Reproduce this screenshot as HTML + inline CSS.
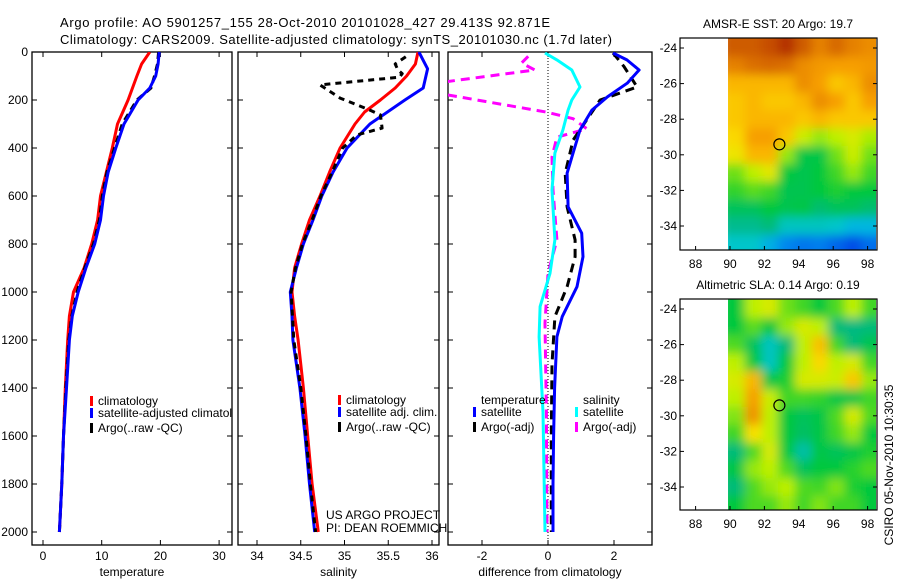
<!DOCTYPE html>
<html><head><meta charset="utf-8"><style>
html,body{margin:0;padding:0;background:#fff;}
svg{display:block;font-family:"Liberation Sans",sans-serif;}
</style></head><body>
<svg id="fig" width="900" height="580" viewBox="0 0 900 580" xmlns="http://www.w3.org/2000/svg">
<defs>
<clipPath id="c1"><rect x="32" y="52" width="200" height="493"/></clipPath>
<clipPath id="c2"><rect x="238" y="52" width="201" height="493"/></clipPath>
<clipPath id="c3"><rect x="448" y="52" width="204" height="493"/></clipPath>
<clipPath id="cm1"><rect x="728" y="38" width="148" height="212"/></clipPath>
<clipPath id="cm2"><rect x="728" y="299" width="148" height="211"/></clipPath>
<filter id="bl" x="-5%" y="-5%" width="110%" height="110%"><feGaussianBlur stdDeviation="5"/></filter>
</defs>
<text x="60" y="27" font-size="13" textLength="490">Argo profile: AO 5901257_155 28-Oct-2010 20101028_427 29.413S 92.871E</text>
<text x="60" y="44" font-size="13" textLength="552">Climatology: CARS2009. Satellite-adjusted climatology: synTS_20101030.nc (1.7d later)</text>
<g id="g1"></g>
<g id="g2"></g>
<g id="g3"></g>
<g id="m1"></g>
<g id="m2"></g>
<text transform="translate(893,465) rotate(-90)" text-anchor="middle" font-size="12">CSIRO 05-Nov-2010 10:30:35</text>
</svg>
<script>
// ---- profile data ----
const depthTicks = [0,200,400,600,800,1000,1200,1400,1600,1800,2000];
const dClim = [0,50,100,200,300,400,500,600,700,800,900,1000,1100,1200,1400,1600,1800,2000];
const tClim = [18.2,16.8,16.0,14.5,12.7,11.8,10.8,9.8,9.3,8.3,7.0,5.2,4.5,4.2,3.8,3.5,3.2,2.8];
const dSat = [0,50,100,150,200,300,400,500,600,700,800,900,1000,1100,1200,1400,1600,1800,2000];
const tSat = [19.8,19.6,19.2,18.2,16.2,13.8,12.4,11.1,10.3,9.8,8.8,7.3,6.0,5.0,4.5,4.0,3.5,3.2,2.8];
const tArgo = [19.7,19.5,19.0,18.4,16.0,13.5,12.2,10.9,10.1,9.6,8.6,7.1,5.8,4.9,4.4,3.9,3.5,3.2,2.8];
const dSal = [0,50,100,150,200,250,300,400,500,600,700,800,900,1000,1100,1200,1400,1600,1800,2000];
const sClim = [35.84,35.81,35.71,35.58,35.41,35.23,35.12,34.95,34.83,34.72,34.60,34.51,34.43,34.40,34.43,34.47,34.53,34.58,34.63,34.70];
const dSalSat = [0,70,150,200,300,400,500,600,700,800,900,1000,1100,1200,1400,1600,1800,2000];
const sSat = [35.85,35.95,35.90,35.69,35.29,35.03,34.87,34.74,34.64,34.53,34.45,34.38,34.40,34.41,34.49,34.55,34.60,34.66];
const dSalArgo = [20,50,75,90,105,137,192,242,262,317,346,400,500,600,700,800,900,1000,1200,1400,1600,1800,2000];
const sArgo = [35.70,35.58,35.61,35.66,35.63,34.72,34.95,35.29,35.41,35.43,35.14,34.98,34.86,34.73,34.63,34.52,34.44,34.39,34.42,34.50,34.56,34.61,34.67];
// differences
const dDT = [4,33,75,130,187,242,325,421,505,645,755,853,978,1103,1187,1400,1600,1800,2000];
const dTsat = [1.97,2.39,2.76,2.40,1.80,1.33,0.97,0.76,0.58,0.61,1.02,1.06,0.88,0.43,0.27,0.2,0.17,0.15,0.15];
const dDTa = [4,60,146,200,367,505,645,783,853,978,1103,1300,1600,2000];
const dTargo = [1.97,2.3,2.7,1.58,0.76,0.52,0.58,0.82,0.82,0.58,0.21,0.12,0.1,0.1];
const dDS = [4,33,75,146,200,242,325,421,575,783,922,1061,1187,1500,2000];
const dSsat = [-0.09,0.27,0.72,0.97,0.72,0.61,0.45,0.21,0.12,0.21,0.06,-0.24,-0.27,-0.15,-0.09];
const dDSa = [18,46,75,126,175,251,278,320,355,438,575,783,922,1130,1500,2000];
const dSargo = [-0.6,-0.8,-0.4,-3.2,-3.2,-0.03,0.76,1.18,0.27,0.12,0.15,0.27,0,-0.09,-0.05,-0.03];
// ---- map data (rows lat -24..-35, cols lon 90..98.5) ----
const sstLat = [-24,-25,-26,-27,-28,-29,-30,-31,-32,-33,-34,-35];
const sstGrid = [
[0.86,0.86,0.88,0.92,0.86,0.80,0.84,0.80,0.78],
[0.80,0.83,0.84,0.83,0.78,0.76,0.75,0.75,0.76],
[0.72,0.72,0.72,0.72,0.78,0.75,0.70,0.72,0.78],
[0.70,0.72,0.70,0.70,0.72,0.78,0.75,0.70,0.75],
[0.70,0.72,0.72,0.72,0.70,0.72,0.70,0.70,0.70],
[0.68,0.75,0.75,0.70,0.63,0.60,0.62,0.64,0.61],
[0.66,0.72,0.72,0.60,0.49,0.49,0.58,0.63,0.58],
[0.58,0.62,0.65,0.50,0.48,0.50,0.55,0.60,0.55],
[0.54,0.57,0.55,0.48,0.48,0.50,0.52,0.50,0.50],
[0.47,0.47,0.50,0.48,0.49,0.45,0.47,0.47,0.45],
[0.42,0.42,0.44,0.38,0.38,0.38,0.37,0.34,0.34],
[0.37,0.37,0.33,0.28,0.26,0.27,0.24,0.21,0.25]];
const slaGrid = [
[0.50,0.62,0.64,0.58,0.55,0.50,0.56,0.62,0.55],
[0.50,0.57,0.50,0.60,0.64,0.62,0.44,0.43,0.44],
[0.56,0.47,0.38,0.44,0.62,0.71,0.55,0.44,0.48],
[0.62,0.50,0.38,0.50,0.62,0.68,0.62,0.64,0.55],
[0.64,0.72,0.49,0.52,0.64,0.64,0.63,0.70,0.60],
[0.62,0.75,0.63,0.55,0.55,0.54,0.49,0.49,0.55],
[0.59,0.77,0.62,0.50,0.47,0.49,0.56,0.64,0.56],
[0.55,0.67,0.62,0.50,0.46,0.49,0.55,0.60,0.50],
[0.44,0.56,0.64,0.50,0.40,0.49,0.47,0.49,0.52],
[0.49,0.60,0.62,0.56,0.47,0.50,0.50,0.53,0.56],
[0.44,0.56,0.60,0.62,0.56,0.55,0.59,0.52,0.50],
[0.50,0.56,0.56,0.60,0.55,0.59,0.55,0.55,0.50]];
const mapLatTicks = [-24,-26,-28,-30,-32,-34];
const mapLonTicks = [88,90,92,94,96,98];
const argoPos = [92.871,-29.413];

const NS="http://www.w3.org/2000/svg";
function el(tag,attrs,parent,txt){const e=document.createElementNS(NS,tag);for(const k in attrs)e.setAttribute(k,attrs[k]);if(txt!==undefined)e.textContent=txt;parent.appendChild(e);return e;}
const yD = d => 52 + d*0.24;
const xT = t => 43 + t*5.87;
const xS = s => 257 + (s-34)*87.5;
const xDf = v => 548 + v*33;

function frame(g,x0,x1,xticks,xf,labels,xlabel,leftLabels){
  const f=el('rect',{x:x0,y:52,width:x1-x0,height:493,fill:'none',stroke:'#000','stroke-width':1.3},g);
  
  
  depthTicks.forEach(d=>{
    el('line',{x1:x0,x2:x0+5,y1:yD(d),y2:yD(d),stroke:'#000'},g);
    el('line',{x1:x1,x2:x1-5,y1:yD(d),y2:yD(d),stroke:'#000'},g);
    if(leftLabels){const t=el('text',{x:x0-4,y:yD(d)+4,'text-anchor':'end','font-size':12},g,String(d));
      
      }
  });
  xticks.forEach((v,i)=>{
    el('line',{x1:xf(v),x2:xf(v),y1:545,y2:540,stroke:'#000'},g);
    el('line',{x1:xf(v),x2:xf(v),y1:52,y2:57,stroke:'#000'},g);
    const t=el('text',{x:xf(v),y:560,'text-anchor':'middle','font-size':12},g,labels[i]);
    
    
  });
  const xl=el('text',{x:(x0+x1)/2,y:576,'text-anchor':'middle','font-size':12},g,xlabel);
  
  
}
function line(g,ds,vs,xf,color,name,dash,w){
  const pts=ds.map((d,i)=>xf(vs[i]).toFixed(1)+','+yD(d).toFixed(1)).join(' ');
  const p=el('polyline',{points:pts,fill:'none',stroke:color,'stroke-width':w||3,'stroke-linejoin':'round'},g);
  if(dash)p.setAttribute('stroke-dasharray',dash);
  
  
}
function legend(g,x,y,color,label){
  el('rect',{x:x,y:y-9,width:3,height:10,fill:color},g);
  const t=el('text',{x:x+8,y:y,'font-size':12},g,label);
  
  
}

// Panel 1
const g1=document.getElementById('g1');
frame(g1,32,232,[0,10,20,30],xT,['0','10','20','30'],'temperature',true);
const p1=el('g',{'clip-path':'url(#c1)'},g1);
line(p1,dClim,tClim,xT,'#f00','temp-climatology-line');
line(p1,dSat,tArgo,xT,'#000','temp-argo-line','7,5');
line(p1,dSat,tSat,xT,'#00f','temp-satellite-line');
legend(p1,90,405,'#f00','climatology');
legend(p1,90,417,'#00f','satellite-adjusted climatology');
legend(p1,90,432,'#000','Argo(..raw -QC)');

// Panel 2
const g2=document.getElementById('g2');
frame(g2,238,439,[34,34.5,35,35.5,36],xS,['34','34.5','35','35.5','36'],'salinity',false);
const p2=el('g',{'clip-path':'url(#c2)'},g2);
line(p2,dSal,sClim,xS,'#f00','sal-climatology-line');
line(p2,dSalSat,sSat,xS,'#00f','sal-satellite-line');
line(p2,dSalArgo,sArgo,xS,'#000','sal-argo-line','6,5');
legend(p2,338,404,'#f00','climatology');
legend(p2,338,416,'#00f','satellite adj. clim.');
legend(p2,338,431,'#000','Argo(..raw -QC)');
const n1=el('text',{x:326,y:519,'font-size':12},g2,'US ARGO PROJECT');


const n2=el('text',{x:326,y:532,'font-size':12},g2,'PI: DEAN ROEMMICH');



// Panel 3
const g3=document.getElementById('g3');
frame(g3,448,652,[-2,0,2],xDf,['-2','0','2'],'difference from climatology',false);
const p3=el('g',{'clip-path':'url(#c3)'},g3);
const zl=el('line',{x1:xDf(0),x2:xDf(0),y1:52,y2:545,stroke:'#000','stroke-dasharray':'1,2'},p3);


line(p3,dDSa,dSargo,xDf,'#f0f','sal-argo-diff-line','9,6');
line(p3,dDS,dSsat,xDf,'#0ff','sal-satellite-diff-line');
line(p3,dDTa,dTargo,xDf,'#000','temp-argo-diff-line','9,6');
line(p3,dDT,dTsat,xDf,'#00f','temp-satellite-diff-line');
const lt=el('text',{x:481,y:404,'font-size':12},p3,'temperature');


const ls=el('text',{x:583,y:404,'font-size':12},p3,'salinity');


legend(p3,473,416,'#00f','satellite');
legend(p3,473,431,'#000','Argo(-adj)');
legend(p3,575,416,'#0ff','satellite');
legend(p3,575,431,'#f0f','Argo(-adj)');

// Maps
const stops=[[0.2,[0,70,230]],[0.3,[0,150,240]],[0.36,[0,200,215]],[0.43,[0,185,130]],[0.5,[0,200,60]],[0.57,[90,220,30]],[0.62,[190,240,0]],[0.67,[250,225,0]],[0.74,[250,165,0]],[0.84,[215,105,0]],[0.92,[180,50,0]]];
function cmap(v){
  if(v<=stops[0][0])return 'rgb('+stops[0][1]+')';
  for(let i=1;i<stops.length;i++){if(v<=stops[i][0]){const a=stops[i-1],b=stops[i];const f=(v-a[0])/(b[0]-a[0]);
    return 'rgb('+a[1].map((c,k)=>Math.round(c+(b[1][k]-c)*f)).join(',')+')';}}
  return 'rgb('+stops[stops.length-1][1]+')';
}
function drawMap(id,top,bot,grid,clip,title){
  const g=document.getElementById(id);
  const lat0=-24, yL=lat=>top+10+(lat0-lat)*17.8;
  const xL=lon=>730+(lon-90)*17.2;
  const t=el('text',{x:778,y:top-10,'text-anchor':'middle','font-size':12},g,title);
  
  
  const hg=el('g',{'clip-path':'url(#'+clip+')'},g);
  const bg=el('g',{filter:'url(#bl)'},hg);
  const cw=(98.6-89.9)/9;
  grid.forEach((row,r)=>row.forEach((v,c)=>{
    const lat=sstLat[r], lon=89.9+c*cw;
    const x=xL(lon), y=yL(lat+0.5);
    const rc=el('rect',{x:x-(c==0?8:0),y:y-(r==0?10:0),width:xL(lon+cw)-x+1+(c==0?8:0)+(c==8?10:0),height:17.8+1+(r==0?10:0)+(r==11?10:0),fill:cmap(v)},bg);
    
    
  }));
  const fr=el('rect',{x:680,y:top,width:197,height:bot-top,fill:'none',stroke:'#000','stroke-width':1.2},g);
  
  
  mapLatTicks.forEach(l=>{
    el('line',{x1:680,x2:684,y1:yL(l),y2:yL(l),stroke:'#000'},g);
    el('line',{x1:877,x2:873,y1:yL(l),y2:yL(l),stroke:'#000'},g);
    const tl=el('text',{x:677,y:yL(l)+4,'text-anchor':'end','font-size':12},g,String(l));
    
    
  });
  mapLonTicks.forEach(l=>{
    el('line',{x1:xL(l),x2:xL(l),y1:bot,y2:bot-4,stroke:'#000'},g);
    const tl=el('text',{x:xL(l),y:bot+18,'text-anchor':'middle','font-size':12},g,String(l));
    
    
  });
  const ci=el('ellipse',{cx:xL(argoPos[0]),cy:yL(argoPos[1]),rx:5.5,ry:5.5,fill:'none',stroke:'#000','stroke-width':1.2},g);
  
  
}
drawMap('m1',38,250,sstGrid,'cm1','AMSR-E SST: 20 Argo: 19.7');
drawMap('m2',299,510,slaGrid,'cm2','Altimetric SLA: 0.14 Argo: 0.19');
</script>
</body></html>
